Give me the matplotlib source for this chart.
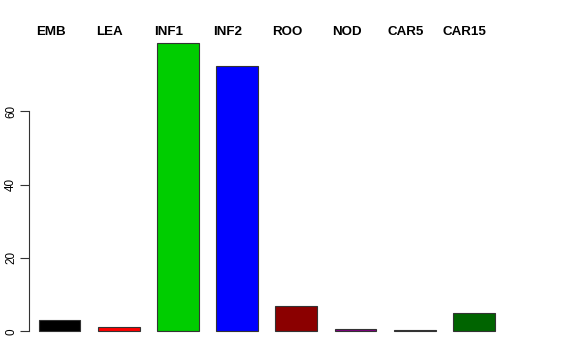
import matplotlib
matplotlib.use("Agg")
import matplotlib.pyplot as plt

categories = ["EMB", "LEA", "INF1", "INF2", "ROO", "NOD", "CAR5", "CAR15"]
values = [3.2, 1.1, 78.5, 72.3, 6.9, 0.55, 0.27, 4.9]
colors = ["#000000", "#FF0000", "#00CD00", "#0000FF", "#8B0000", "#800080", "#000000", "#006400"]
yticks = [0, 20, 40, 60]

W, H = 576, 360
plt.rcParams['font.family'] = ['Liberation Sans', 'DejaVu Sans']
fig = plt.figure(figsize=(W / 100, H / 100), dpi=100)
ax = fig.add_axes([0, 0, 1, 1])

# pixel mapping
x0_px, dx_px = 59.5, 59.2
y0_px, dy_px = 331.3, 3.667
ax.set_xlim(-x0_px / dx_px, (W - x0_px) / dx_px)
ax.set_ylim(-(H - y0_px) / dy_px, y0_px / dy_px)

xs = list(range(len(categories)))
ax.bar(xs, values, width=0.709, color=colors, edgecolor="#333333", linewidth=0.8)

for i, c in enumerate(categories):
    ax.text(i - 9.0 / dx_px, (y0_px - 34.7) / dy_px, c, ha="center", va="baseline",
            fontsize=9.6, fontweight="bold")

for s in ["top", "right", "bottom"]:
    ax.spines[s].set_visible(False)
ax.spines["left"].set_position(("data", (29.0 - x0_px) / dx_px))
ax.spines["left"].set_bounds(0, 60)
ax.spines["left"].set_color("#333333")
ax.spines["left"].set_linewidth(0.8)
ax.set_xticks([])
ax.set_yticks(yticks)
ax.set_yticklabels([str(t) for t in yticks], rotation=90, va="center", fontsize=8.4)
ax.tick_params(axis="y", length=6.2, width=0.8, color="#333333", pad=2.4)

fig.savefig("out.png", dpi=100)
